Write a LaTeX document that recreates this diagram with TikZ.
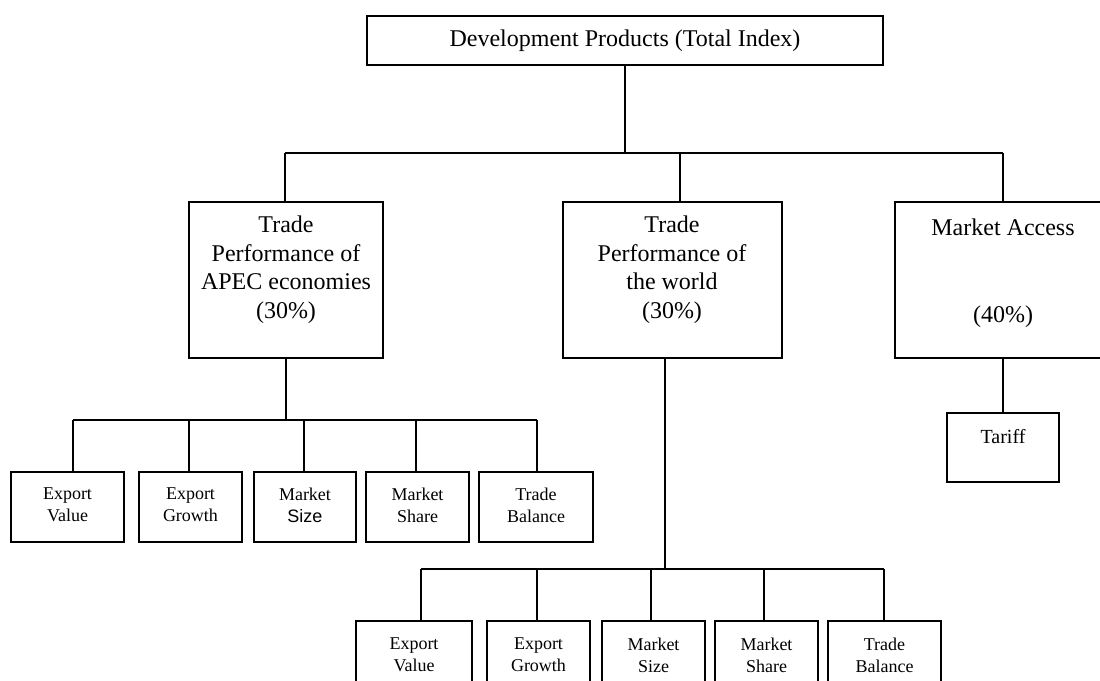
\documentclass[tikz,border=0pt]{standalone}
\usepackage{fontspec}
\setmainfont{Liberation Serif}
\newfontfamily\arialf{Liberation Sans}
\begin{document}
\begin{tikzpicture}[x=0.5pt,y=-0.5pt,
  box/.style={draw, line width=0.75pt, inner sep=0pt},
  big/.style={align=center, font=\fontsize{12}{14.25}\selectfont, inner sep=0pt},
  mid/.style={align=center, font=\fontsize{10}{12}\selectfont, inner sep=0pt},
  small/.style={align=center, font=\fontsize{9}{11}\selectfont, inner sep=0pt},
  leaf/.style={box, minimum height=35pt},
  conn/.style={line width=1pt}]
\useasboundingbox (0,0) rectangle (1100,681);

% top
\node[box, big, minimum width=258pt, minimum height=24.5pt] (top) at (625,40.5) {Development Products (Total Index)};

% second level
\node[box, minimum width=97pt, minimum height=78pt] (b1) at (286,280) {};
\node[big] (b1t) at (286,269.5) {Trade\\Performance of\\APEC economies\\(30\%)};
\node[box, minimum width=109.5pt, minimum height=78pt] (b2) at (672.5,280) {};
\node[big] (b2t) at (672,269.5) {Trade\\Performance of\\the world\\(30\%)};
\node[box, minimum width=108pt, minimum height=78pt] (b3) at (1003,280) {};
\node[big] (b3a) at (1003,227) {Market Access};
\node[big] (b3b) at (1003,317) {(40\%)};

% tariff
\node[box, minimum width=56pt, minimum height=34.5pt] (tar) at (1003,447.5) {};
\node[mid] (tart) at (1003,437) {Tariff};

% row 1
\node[leaf, minimum width=56.5pt] (p1) at (67.5,507) {};
\node[leaf, minimum width=51.5pt] (p2) at (190.5,507) {};
\node[leaf, minimum width=51pt]   (p3) at (305,507) {};
\node[leaf, minimum width=51.5pt] (p4) at (417.5,507) {};
\node[leaf, minimum width=57pt]   (p5) at (536,507) {};
\node[small] at (67.5,505) {Export\\Value};
\node[small] at (190.5,505) {Export\\Growth};
\node[small] at (305,505) {Market\\{\arialf Size}};
\node[small] at (417.5,505) {Market\\Share};
\node[small] at (536,505) {Trade\\Balance};

% row 2
\node[leaf, minimum width=58pt]   (q1) at (414,656) {};
\node[leaf, minimum width=51.5pt] (q2) at (538.5,656) {};
\node[leaf, minimum width=51.5pt] (q3) at (653.5,656) {};
\node[leaf, minimum width=51.5pt] (q4) at (766.5,656) {};
\node[leaf, minimum width=56.5pt] (q5) at (884.5,656) {};
\node[small] at (414,655) {Export\\Value};
\node[small] at (538.5,655) {Export\\Growth};
\node[small] at (653.5,655) {Market\\Size};
\node[small] at (766.5,655) {Market\\Share};
\node[small] at (884.5,655) {Trade\\Balance};

% connectors top level
\coordinate (barL) at (285,153);
\coordinate (barM) at (680,153);
\coordinate (barR) at (1003,153);
\draw[conn] (top.south) -- (top.south |- barL);
\draw[conn] (barL) -- (barR);
\draw[conn] (barL) -- (barL |- b1.north);
\draw[conn] (barM) -- (barM |- b2.north);
\draw[conn] (barR) -- (barR |- b3.north);

% connectors row 1
\coordinate (a1) at (73,420);
\coordinate (a2) at (189,420);
\coordinate (a3) at (304,420);
\coordinate (a4) at (416,420);
\coordinate (a5) at (537,420);
\draw[conn] (b1.south) -- (b1.south |- a1);
\draw[conn] (a1) -- (a5);
\foreach \i in {1,...,5} {\draw[conn] (a\i) -- (a\i |- p\i.north);}

% connectors row 2
\coordinate (c0) at (665,569);
\coordinate (c1) at (421,569);
\coordinate (c2) at (537,569);
\coordinate (c3) at (651,569);
\coordinate (c4) at (764,569);
\coordinate (c5) at (884,569);
\draw[conn] (c0 |- b2.south) -- (c0);
\draw[conn] (c1) -- (c5);
\foreach \i in {1,...,5} {\draw[conn] (c\i) -- (c\i |- q\i.north);}

% tariff
\draw[conn] (b3.south) -- (tar.north);
\end{tikzpicture}
\end{document}
